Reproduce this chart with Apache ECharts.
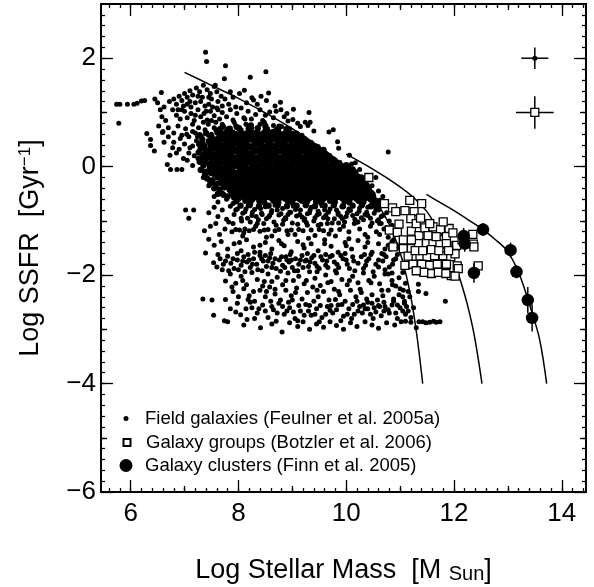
<!DOCTYPE html>
<html><head><meta charset="utf-8">
<script src="https://cdn.jsdelivr.net/npm/echarts@6/dist/echarts.min.js"></script>
<style>html,body{margin:0;padding:0;background:#fff}#c{width:594px;height:587px}</style>
</head><body><div id="c"></div><script>
// ---- data ----
const xTickLabels = [6, 8, 10, 12, 14];
const yTickLabels = [-6, -4, -2, 0, 2];
const fieldGalaxies = [
[5.74,1.15],[5.80,1.15],[5.94,1.15],[6.06,1.15],[6.12,1.17],[6.20,1.21],[6.26,1.22],[5.78,0.80],
[6.30,0.61],[6.37,0.39],[6.44,0.29],[6.68,0.04],[6.74,-0.05],[6.86,-0.05],[6.95,-0.05],[6.37,0.50],[6.59,0.63],[6.73,0.21],
[6.45,1.25],[6.50,1.18],[6.57,1.37],[6.62,1.10],[6.55,1.05],[6.58,0.92],[6.65,0.85],[6.52,0.75],[6.60,0.65],[6.70,0.72],[6.72,1.20],[6.80,1.25],[6.85,1.15],[6.78,1.05],[6.90,1.30],[6.95,1.22],[7.00,1.35],[7.05,1.28],[7.10,1.40],[7.15,1.32],[7.22,1.45],[7.28,1.38],[7.35,1.50],[7.42,1.42],[7.48,1.35],[7.55,1.48],[7.60,1.38],[7.68,1.30],[7.50,1.25],[7.20,1.18],[7.12,1.10],[7.30,1.20],[7.38,1.12],[7.62,1.20],[7.75,1.25],[7.82,1.15],[7.90,1.28],[7.95,1.10],[8.02,1.35],[8.11,1.41],[8.25,1.27],[8.28,1.23],[8.52,1.22],[8.56,1.36],[8.58,1.01],[8.78,1.19],[8.79,1.05],[9.02,1.06],[9.01,0.87],[9.31,1.00],[9.24,0.82],[9.33,0.82],[9.29,0.76],[9.40,0.66],[9.68,0.64],[9.76,0.68],[9.84,0.46],[9.86,0.34],[10.06,0.21],[10.17,0.07],[10.78,0.27],
[7.39,2.11],[7.41,1.94],[7.76,1.86],[7.74,1.62],[8.22,1.65],[8.51,1.75],[7.57,1.50],
[6.85,0.95],[6.92,0.88],[7.00,1.02],[7.05,0.90],[7.12,0.98],[7.18,0.85],[7.25,1.05],[7.30,0.92],[7.36,0.98],[7.42,0.86],[7.48,1.02],[7.55,0.94],[7.60,1.08],[7.65,0.88],[7.70,1.00],[7.78,0.92],[7.85,1.05],[7.90,0.86],[7.97,0.98],[8.05,1.08],[8.10,0.90],[8.18,1.02],[8.24,0.88],[8.32,0.96],[8.40,1.05],[8.45,0.85],[8.50,0.95],[8.65,0.90],[8.70,1.02],[8.85,0.92],[8.92,0.84],[9.10,0.80],[9.15,0.74],
[7.85,1.38],[8.15,1.18],[8.35,1.15],[8.42,1.30],[8.68,1.12],[8.90,0.98],[7.05,1.15],[6.95,1.05],[7.45,1.15],[7.70,1.12],
[6.80,0.62],[6.88,0.75],[6.95,0.58],[7.02,0.70],[7.08,0.55],[7.15,0.78],[7.20,0.62],[7.26,0.72],[7.32,0.55],[7.38,0.68],[7.44,0.78],[7.50,0.60],[7.55,0.72],[7.60,0.52],[7.64,0.66],[7.70,0.78],[7.74,0.58],[7.80,0.70],[7.84,0.55],[7.90,0.64],[7.95,0.76],[8.00,0.58],[8.05,0.68],[8.10,0.52],[8.14,0.78],[8.20,0.62],[8.25,0.72],[8.30,0.55],[8.35,0.66],[8.40,0.78],[8.45,0.58],[8.50,0.70],[8.55,0.52],[8.60,0.64],[8.65,0.76],[8.70,0.57],[8.75,0.68],[8.80,0.74],[8.85,0.55],[8.90,0.66],[8.95,0.70],[9.00,0.58],[9.08,0.62],[9.12,0.52],[9.18,0.58],[9.25,0.50],[9.35,0.44],[9.45,0.38],[7.92,0.82],[8.48,0.82],[8.12,0.88],[7.58,0.82],
[6.80,0.45],[6.90,0.32],[7.00,0.42],[7.08,0.25],[7.15,0.38],[7.22,0.48],[7.28,0.30],[7.35,0.42],[7.42,0.22],[7.48,0.36],[7.54,0.46],[7.60,0.28],[7.65,0.40],
[7.05,0.12],[7.15,0.02],[7.25,0.15],[7.32,-0.05],[7.40,0.08],[7.46,-0.02],[7.52,0.16],[7.58,0.04],
[7.35,-0.20],[7.45,-0.35],[7.55,-0.15],[7.62,-0.30],[7.68,-0.22],[7.72,-0.38],[7.55,-0.55],[7.62,-0.65],[7.70,-0.48],[7.78,-0.60],[7.85,-0.45],[7.90,-0.68],
[7.02,-0.80],[7.17,-0.80],[7.08,-0.95],
[6.62,0.45],[6.70,0.55],[6.78,0.35],[6.85,0.25],[6.92,0.52],[6.98,0.15],[7.04,0.60],[7.10,0.35],[7.18,0.20],[7.24,0.55],[7.30,0.08],[7.38,0.30],[7.44,0.58],[7.50,0.12],[7.56,0.40],[7.20,0.95],[7.33,1.28],[7.40,1.02],[7.52,1.10],[7.58,0.68],[6.98,1.12],[7.10,1.20],[7.25,1.30],[7.45,1.28],[7.62,1.05],[7.68,0.70],[7.50,0.85],[7.35,0.82],[7.15,0.65],[6.88,1.05]
];
const fieldGalaxiesCore = [
[7.71,.74],[7.97,.73],[8.23,.76],[8.50,.75],[8.76,.74],
[7.66,.69],[7.84,.70],[8.01,.71],[8.19,.70],[8.36,.71],[8.53,.69],[8.71,.68],[8.89,.69],
[7.61,.63],[7.69,.61],[7.78,.64],[7.87,.62],[7.95,.60],[8.04,.63],[8.13,.61],[8.22,.64],[8.30,.62],[8.39,.60],[8.48,.63],[8.56,.61],[8.65,.64],[8.74,.62],[8.83,.60],[8.91,.63],[9.00,.61],[9.09,.59],
[7.65,.55],[7.73,.57],[7.82,.54],[7.91,.56],[8.00,.53],[8.08,.56],[8.17,.54],[8.26,.57],[8.34,.55],[8.43,.53],[8.52,.56],[8.61,.54],[8.69,.57],[8.78,.55],[8.87,.53],[8.95,.56],[9.04,.54],[9.13,.52],[9.22,.51],
[7.60,.48],[7.68,.50],[7.77,.47],[7.86,.49],[7.94,.46],[8.03,.49],[8.12,.47],[8.21,.50],[8.29,.48],[8.38,.46],[8.47,.49],[8.55,.47],[8.64,.50],[8.73,.48],[8.82,.46],[8.90,.49],[8.99,.47],[9.08,.45],[9.17,.48],[9.26,.46],[9.34,.44],
[7.64,.41],[7.72,.39],[7.81,.42],[7.90,.40],[7.98,.43],[8.07,.39],[8.16,.41],[8.25,.38],[8.33,.42],[8.42,.40],[8.51,.38],[8.59,.41],[8.68,.39],[8.77,.42],[8.86,.40],[8.94,.38],[9.03,.41],[9.12,.39],[9.21,.42],[9.29,.40],[9.38,.38],[9.47,.36],
[7.58,.34],[7.66,.32],[7.75,.35],[7.84,.33],[7.92,.31],[8.01,.34],[8.10,.32],[8.19,.35],[8.27,.33],[8.36,.31],[8.45,.34],[8.53,.32],[8.62,.35],[8.71,.33],[8.80,.31],[8.88,.34],[8.97,.32],[9.06,.35],[9.15,.33],[9.23,.31],[9.32,.34],[9.41,.32],[9.50,.30],[9.58,.31],
[7.62,.27],[7.70,.25],[7.79,.28],[7.88,.26],[7.96,.29],[8.05,.25],[8.14,.27],[8.23,.24],[8.31,.28],[8.40,.26],[8.49,.24],[8.57,.27],[8.66,.25],[8.75,.28],[8.84,.26],[8.92,.24],[9.01,.27],[9.10,.25],[9.19,.28],[9.27,.26],[9.36,.24],[9.45,.27],[9.54,.25],[9.62,.23],[9.68,.20],
[7.57,.20],[7.65,.18],[7.74,.21],[7.83,.19],[7.91,.17],[8.00,.20],[8.09,.18],[8.18,.21],[8.26,.19],[8.35,.17],[8.44,.20],[8.52,.18],[8.61,.21],[8.70,.19],[8.79,.17],[8.87,.20],[8.96,.18],[9.05,.21],[9.14,.19],[9.22,.17],[9.31,.20],[9.40,.18],[9.49,.21],[9.57,.19],[9.66,.17],[9.75,.14],
[7.52,.13],[7.61,.11],[7.69,.14],[7.78,.12],[7.87,.10],[7.95,.13],[8.04,.11],[8.13,.14],[8.22,.12],[8.30,.10],[8.39,.13],[8.48,.11],[8.56,.14],[8.65,.12],[8.74,.10],[8.83,.13],[8.91,.11],[9.00,.14],[9.09,.12],[9.18,.10],[9.26,.13],[9.35,.11],[9.44,.14],[9.52,.12],[9.61,.10],[9.70,.13],[9.79,.11],[9.87,.07],
[7.56,.06],[7.64,.04],[7.73,.07],[7.82,.05],[7.90,.03],[7.99,.06],[8.08,.04],[8.17,.07],[8.25,.05],[8.34,.03],[8.43,.06],[8.51,.04],[8.60,.07],[8.69,.05],[8.78,.03],[8.86,.06],[8.95,.04],[9.04,.07],[9.13,.05],[9.21,.03],[9.30,.06],[9.39,.04],[9.48,.07],[9.56,.05],[9.65,.03],[9.74,.06],[9.83,.04],[9.91,.02],[10.00,.03],
[7.60,-.01],[7.68,-.03],[7.77,.00],[7.86,-.02],[7.94,.01],[8.03,-.03],[8.12,-.01],[8.21,-.04],[8.29,.00],[8.38,-.02],[8.47,-.04],[8.55,-.01],[8.64,-.03],[8.73,.00],[8.82,-.02],[8.90,-.04],[8.99,-.01],[9.08,-.03],[9.17,.00],[9.25,-.02],[9.34,-.04],[9.43,-.01],[9.52,-.03],[9.60,.00],[9.69,-.02],[9.78,-.04],[9.87,-.01],[9.95,-.03],[10.04,-.02],[10.12,-.05],
[7.64,-.08],[7.72,-.10],[7.81,-.07],[7.90,-.09],[7.98,-.11],[8.07,-.08],[8.16,-.10],[8.25,-.07],[8.33,-.09],[8.42,-.11],[8.51,-.08],[8.59,-.10],[8.68,-.07],[8.77,-.09],[8.86,-.11],[8.94,-.08],[9.03,-.10],[9.12,-.07],[9.21,-.09],[9.29,-.11],[9.38,-.08],[9.47,-.10],[9.56,-.07],[9.64,-.09],[9.73,-.11],[9.82,-.08],[9.91,-.10],[9.99,-.07],[10.08,-.09],[10.17,-.11],
[7.68,-.15],[7.76,-.17],[7.85,-.14],[7.94,-.16],[8.02,-.18],[8.11,-.15],[8.20,-.17],[8.29,-.14],[8.37,-.16],[8.46,-.18],[8.55,-.15],[8.63,-.17],[8.72,-.14],[8.81,-.16],[8.90,-.18],[8.98,-.15],[9.07,-.17],[9.16,-.14],[9.25,-.16],[9.33,-.18],[9.42,-.15],[9.51,-.17],[9.60,-.14],[9.68,-.16],[9.77,-.18],[9.86,-.15],[9.95,-.17],[10.03,-.14],[10.12,-.16],[10.21,-.18],[10.28,-.20],
[7.72,-.22],[7.80,-.24],[7.89,-.21],[7.98,-.23],[8.06,-.25],[8.15,-.22],[8.24,-.24],[8.33,-.21],[8.41,-.23],[8.50,-.25],[8.59,-.22],[8.67,-.24],[8.76,-.21],[8.85,-.23],[8.94,-.25],[9.02,-.22],[9.11,-.24],[9.20,-.21],[9.29,-.23],[9.37,-.25],[9.46,-.22],[9.55,-.24],[9.64,-.21],[9.72,-.23],[9.81,-.25],[9.90,-.22],[9.99,-.24],[10.07,-.21],[10.16,-.23],[10.25,-.25],[10.34,-.27],
[7.76,-.29],[7.84,-.31],[7.93,-.28],[8.02,-.30],[8.10,-.32],[8.19,-.29],[8.28,-.31],[8.37,-.28],[8.45,-.30],[8.54,-.32],[8.63,-.29],[8.71,-.31],[8.80,-.28],[8.89,-.30],[8.98,-.32],[9.06,-.29],[9.15,-.31],[9.24,-.28],[9.33,-.30],[9.41,-.32],[9.50,-.29],[9.59,-.31],[9.68,-.28],[9.76,-.30],[9.85,-.32],[9.94,-.29],[10.03,-.31],[10.11,-.28],[10.20,-.30],[10.29,-.32],[10.38,-.34],
[7.80,-.36],[7.88,-.38],[7.97,-.35],[8.06,-.37],[8.14,-.39],[8.23,-.36],[8.32,-.38],[8.41,-.35],[8.49,-.37],[8.58,-.39],[8.67,-.36],[8.75,-.38],[8.84,-.35],[8.93,-.37],[9.02,-.39],[9.10,-.36],[9.19,-.38],[9.28,-.35],[9.37,-.37],[9.45,-.39],[9.54,-.36],[9.63,-.38],[9.72,-.35],[9.80,-.37],[9.89,-.39],[9.98,-.36],[10.07,-.38],[10.15,-.35],[10.24,-.37],[10.33,-.39],[10.42,-.41],
[7.84,-.43],[7.92,-.45],[8.01,-.42],[8.10,-.44],[8.18,-.46],[8.27,-.43],[8.36,-.45],[8.45,-.42],[8.53,-.44],[8.62,-.46],[8.71,-.43],[8.79,-.45],[8.88,-.42],[8.97,-.44],[9.06,-.46],[9.14,-.43],[9.23,-.45],[9.32,-.42],[9.41,-.44],[9.49,-.46],[9.58,-.43],[9.67,-.45],[9.76,-.42],[9.84,-.44],[9.93,-.46],[10.02,-.43],[10.11,-.45],[10.19,-.42],[10.28,-.44],[10.37,-.46],[10.46,-.48],
[7.88,-.50],[7.96,-.52],[8.05,-.49],[8.14,-.51],[8.22,-.53],[8.31,-.50],[8.40,-.52],[8.49,-.49],[8.57,-.51],[8.66,-.53],[8.75,-.50],[8.83,-.52],[8.92,-.49],[9.01,-.51],[9.10,-.53],[9.18,-.50],[9.27,-.52],[9.36,-.49],[9.45,-.51],[9.53,-.53],[9.62,-.50],[9.71,-.52],[9.80,-.49],[9.88,-.51],[9.97,-.53],[10.06,-.50],[10.15,-.52],[10.23,-.49],[10.32,-.51],[10.41,-.53],[10.50,-.55],
[7.92,-.57],[8.00,-.59],[8.09,-.56],[8.18,-.58],[8.26,-.60],[8.35,-.57],[8.44,-.59],[8.53,-.56],[8.61,-.58],[8.70,-.60],[8.79,-.57],[8.87,-.59],[8.96,-.56],[9.05,-.58],[9.14,-.60],[9.22,-.57],[9.31,-.59],[9.40,-.56],[9.49,-.58],[9.57,-.60],[9.66,-.57],[9.75,-.59],[9.84,-.56],[9.92,-.58],[10.01,-.60],[10.10,-.57],[10.19,-.59],[10.27,-.56],[10.36,-.58],[10.45,-.60],[10.54,-.62],
[7.96,-.64],[8.13,-.63],[8.22,-.66],[8.39,-.64],[8.48,-.66],[8.65,-.63],[8.74,-.66],[8.92,-.64],[9.00,-.66],[9.18,-.63],[9.27,-.65],[9.44,-.64],[9.53,-.66],[9.70,-.63],[9.79,-.65],[9.97,-.64],[10.06,-.66],[10.23,-.63],[10.32,-.65],[10.49,-.64],[10.58,-.66],
[8.04,-.72],[8.21,-.71],[8.38,-.73],[8.56,-.72],[8.73,-.71],[8.90,-.73],[9.08,-.72],[9.25,-.71],[9.42,-.73],[9.60,-.72],[9.77,-.71],[9.94,-.73],[10.12,-.72],[10.29,-.71],[10.46,-.73],[10.63,-.72],
[7.28,.58],[7.40,.62],[7.50,.55],[7.33,.50],[7.45,.47],[7.55,.50],[7.27,.42],[7.37,.38],[7.48,.41],[7.30,.33],[7.42,.30],[7.52,.33],[7.26,.26],[7.36,.22],[7.47,.25],[7.32,.16],[7.44,.18],[7.55,.22],[7.28,.09],[7.39,.12],[7.50,.08],[7.35,.02],[7.46,.04],[7.55,-.02],[7.30,-.06],[7.41,-.09],[7.52,-.07],[7.38,-.14],[7.49,-.12],[7.58,-.10],[7.42,-.22],[7.52,-.25],[7.62,-.20],[7.48,-.30],[7.58,-.33],[7.68,-.30],[7.55,-.40],[7.65,-.42],[7.75,-.38],[7.62,-.50],[7.72,-.52],[7.80,-.55]
];
const fieldGalaxiesMid = [
[8.08,-.86],[8.26,-.84],[8.44,-.88],[8.61,-.85],[8.79,-.87],[8.97,-.84],[9.14,-.88],[9.32,-.85],[9.50,-.87],[9.67,-.84],[9.85,-.88],[10.02,-.85],[10.20,-.87],[10.38,-.84],[8.17,-.95],[8.52,-.96],[8.87,-.94],[9.23,-.96],[9.58,-.94],[9.93,-.96],[10.28,-.94],[10.60,-.98],
[7.45,-0.85],[7.55,-0.75],[7.62,-0.92],[7.70,-0.80],[7.78,-0.97],[7.85,-0.73],[7.92,-0.88],[7.98,-0.78],[8.05,-0.95],[8.12,-0.83],[8.18,-0.72],[8.25,-0.90],[8.30,-0.79],[8.37,-0.98],[8.43,-0.86],[8.50,-0.74],[8.56,-0.93],[8.62,-0.81],[8.68,-0.71],[8.75,-0.89],[8.82,-0.77],[8.88,-0.96],[8.95,-0.84],[9.02,-0.73],[9.08,-0.91],[9.15,-0.80],[9.22,-0.99],[9.28,-0.87],[9.35,-0.75],[9.42,-0.94],[9.48,-0.82],[9.55,-0.72],[9.62,-0.90],[9.70,-0.78],[9.78,-0.96],[9.85,-0.85],[9.92,-0.74],[10.00,-0.92],[10.08,-0.81],[10.16,-0.97],[10.25,-0.76],[10.35,-0.88],[10.45,-0.95],[10.55,-0.80],[10.65,-0.92],[10.75,-0.85],
[7.95,-.80],[8.06,-1.00],[8.14,-.78],[8.22,-1.02],[8.33,-.92],[8.41,-.77],[8.47,-1.05],[8.58,-.90],[8.66,-1.02],[8.72,-.80],[8.84,-.99],[8.92,-.88],[9.00,-1.04],[9.06,-.79],[9.18,-.93],[9.26,-1.03],[9.33,-.80],[9.40,-1.00],[9.46,-.89],[9.53,-1.06],[9.60,-.80],[9.66,-.96],[9.74,-1.04],[9.82,-.80],[9.90,-.92],[9.97,-1.02],[10.05,-.78],[10.12,-.90],[10.18,-1.03],[10.24,-.82],[10.32,-.98],[10.40,-.90],[10.48,-1.04],[10.52,-.86],[10.60,-.80],
[10.10,0.05],[10.15,-0.08],[10.25,-0.05],[10.28,-0.35],[10.35,-0.28],[10.40,-0.42],[10.48,-0.35],[10.50,-0.50],[10.60,-0.45],[10.62,-0.62],[10.70,-0.70],[10.68,-0.55],[10.40,-0.75],[10.50,-0.68],[10.55,-0.20]
];
const fieldGalaxiesLow = [
[7.37,-1.18],[7.45,-1.34],[7.48,-1.10],[7.58,-1.05],[7.65,-1.25],[7.75,-1.15],[7.82,-1.02],[7.88,-1.20],[7.95,-1.16],[8.02,-1.17],[8.08,-1.28],[8.12,-1.15],[8.20,-1.18],[8.28,-1.16],[8.35,-1.05],[8.40,-1.19],[8.48,-1.17],[8.55,-1.16],[8.62,-1.28],[8.68,-1.18],[8.75,-1.16],[8.82,-1.06],[8.90,-1.18],[8.98,-1.17],[9.05,-1.25],[9.12,-1.16],[9.20,-1.18],[9.28,-1.08],[9.35,-1.17],[9.42,-1.27],[9.50,-1.16],[9.58,-1.18],[9.65,-1.05],[9.72,-1.17],[9.80,-1.28],[9.88,-1.16],[9.95,-1.10],[10.05,-1.20],[10.15,-1.05],[10.25,-1.15],[10.35,-1.25],[10.45,-1.10],[10.56,-1.20],[10.70,-1.15],[10.85,-1.08],
[7.90,-1.05],[8.10,-1.22],[8.32,-1.10],[8.52,-1.30],[8.70,-1.08],[8.92,-1.25],[9.10,-1.06],[9.30,-1.32],[9.48,-1.08],[9.68,-1.24],[9.86,-1.04],[10.05,-1.33],[10.22,-1.02],[10.40,-1.30],[10.62,-1.05],[10.78,-1.30],[8.02,-1.40],[8.40,-1.45],[8.80,-1.42],[9.20,-1.44],[9.60,-1.42],[10.00,-1.46],[10.40,-1.40],[10.78,-1.45],
[7.39,-1.59],[7.55,-1.45],[7.68,-1.38],[7.80,-1.52],[7.92,-1.42],[8.05,-1.55],[8.15,-1.35],[8.28,-1.48],[8.40,-1.58],[8.50,-1.40],[8.62,-1.52],[8.75,-1.36],[8.85,-1.46],[8.98,-1.57],[9.10,-1.38],[9.22,-1.50],[9.35,-1.42],[9.48,-1.55],[9.60,-1.35],[9.72,-1.47],[9.85,-1.58],[9.98,-1.40],[10.10,-1.52],[10.22,-1.36],[10.35,-1.48],[10.48,-1.58],[10.60,-1.42],[10.72,-1.52],[10.85,-1.38],[10.95,-1.50],
[7.54,-1.77],[7.60,-1.85],[7.66,-1.70],[7.72,-1.80],[7.80,-1.65],[7.86,-1.78],[7.92,-1.88],[7.98,-1.72],[8.05,-1.82],[8.10,-1.66],[8.16,-1.76],[8.22,-1.86],[8.28,-1.70],[8.34,-1.80],[8.40,-1.64],[8.46,-1.74],[8.52,-1.84],[8.58,-1.68],[8.64,-1.78],[8.70,-1.88],[8.76,-1.72],[8.82,-1.82],[8.88,-1.66],[8.94,-1.76],[9.00,-1.86],[9.06,-1.70],[9.12,-1.80],[9.18,-1.64],[9.24,-1.74],[9.30,-1.84],[9.36,-1.68],[9.42,-1.78],[9.50,-1.88],[9.56,-1.72],[9.62,-1.82],[9.70,-1.66],[9.78,-1.76],[9.86,-1.86],[9.94,-1.70],[10.02,-1.80],[10.12,-1.66],[10.22,-1.78],[10.32,-1.88],[10.42,-1.70],[10.55,-1.80],[10.68,-1.74],[10.80,-1.85],[10.92,-1.70],
[7.62,-1.62],[7.82,-1.92],[7.98,-1.60],[8.12,-1.94],[8.30,-1.58],[8.44,-1.92],[8.60,-1.60],[8.78,-1.93],[8.96,-1.62],[9.10,-1.92],[9.28,-1.60],[9.46,-1.94],[9.62,-1.62],[9.80,-1.92],[9.98,-1.60],[10.16,-1.92],[10.34,-1.62],[10.50,-1.94],[10.66,-1.60],[10.85,-1.96],[8.20,-1.72],[8.55,-1.74],[8.90,-1.72],[9.26,-1.72],[9.64,-1.74],[10.00,-1.72],[10.38,-1.74],[10.74,-1.66],
[7.70,-1.90],[7.76,-1.74],[7.90,-1.70],[8.00,-1.90],[8.08,-1.74],[8.18,-1.62],[8.26,-1.80],[8.36,-1.90],[8.43,-1.70],[8.50,-1.64],[8.62,-1.86],[8.68,-1.70],[8.80,-1.66],[8.86,-1.86],[8.98,-1.72],[9.04,-1.92],[9.15,-1.72],[9.20,-1.86],[9.33,-1.76],[9.40,-1.64],[9.46,-1.84],[9.53,-1.66],[9.66,-1.86],[9.74,-1.64],[9.83,-1.80],[9.90,-1.64],[10.06,-1.88],[10.14,-1.74],[10.28,-1.66],[10.36,-1.82],[10.46,-1.62],[10.60,-1.72],[10.72,-1.90],[10.86,-1.80],
[7.76,-2.11],[7.85,-1.98],[7.95,-2.15],[8.05,-2.02],[8.15,-2.18],[8.25,-1.95],[8.35,-2.08],[8.45,-2.20],[8.55,-1.98],[8.62,-2.12],[8.72,-2.04],[8.82,-2.18],[8.92,-1.96],[9.02,-2.10],[9.12,-2.02],[9.22,-2.16],[9.32,-1.94],[9.42,-2.06],[9.52,-2.19],[9.62,-2.00],[9.72,-2.12],[9.82,-1.96],[9.92,-2.08],[10.02,-2.18],[10.12,-2.02],[10.22,-2.14],[10.32,-1.96],[10.42,-2.10],[10.52,-2.02],[10.62,-2.16],[10.72,-1.98],[10.85,-2.10],[10.98,-2.05],[11.10,-2.15],[11.34,-2.17],
[7.88,-2.22],[8.08,-2.10],[8.28,-2.30],[8.48,-2.12],[8.68,-2.26],[8.88,-2.10],[9.06,-2.32],[9.26,-2.10],[9.46,-2.28],[9.66,-2.14],[9.86,-2.30],[10.06,-2.10],[10.26,-2.26],[10.46,-2.14],[10.66,-2.28],[10.86,-2.18],[11.06,-2.28],[8.18,-2.45],[8.60,-2.48],[9.00,-2.46],[9.40,-2.48],[9.80,-2.45],[10.20,-2.48],
[7.34,-2.44],[7.51,-2.46],[7.76,-2.45],[7.90,-2.30],[8.00,-2.40],[8.10,-2.25],[8.20,-2.38],[8.30,-2.48],[8.40,-2.28],[8.50,-2.40],[8.58,-2.22],[8.68,-2.35],[8.78,-2.46],[8.88,-2.28],[8.98,-2.38],[9.08,-2.24],[9.18,-2.44],[9.28,-2.32],[9.38,-2.22],[9.48,-2.40],[9.58,-2.30],[9.68,-2.46],[9.78,-2.26],[9.88,-2.36],[9.98,-2.48],[10.08,-2.28],[10.18,-2.40],[10.28,-2.32],[10.38,-2.44],[10.48,-2.36],[10.58,-2.46],[10.68,-2.38],[10.78,-2.28],[10.88,-2.44],[10.98,-2.36],[11.08,-2.48],[11.18,-2.40],[11.34,-2.30],[11.48,-2.34],[11.84,-2.48],
[10.32,-2.55],[10.40,-2.62],[10.48,-2.52],[10.55,-2.68],[10.62,-2.58],[10.70,-2.50],[10.78,-2.64],[10.85,-2.55],[10.92,-2.70],[11.00,-2.60],[11.08,-2.52],[11.15,-2.66],[10.45,-2.72],[10.65,-2.75],[10.88,-2.48],
[7.54,-2.74],[7.74,-2.84],[7.85,-2.62],[8.04,-2.73],[8.16,-2.82],[8.25,-2.60],[8.35,-2.70],[8.45,-2.55],[8.55,-2.78],[8.65,-2.64],[8.75,-2.52],[8.85,-2.72],[8.95,-2.60],[9.05,-2.80],[9.15,-2.66],[9.25,-2.54],[9.35,-2.74],[9.45,-2.62],[9.55,-2.78],[9.65,-2.58],[9.75,-2.70],[9.85,-2.55],[9.95,-2.76],[10.05,-2.62],[10.15,-2.72],[10.25,-2.58],[11.25,-2.60],
[7.98,-2.52],[8.14,-2.62],[8.22,-2.50],[8.38,-2.62],[8.52,-2.30],[8.62,-2.58],[8.72,-2.70],[8.82,-2.58],[8.93,-2.50],[9.02,-2.68],[9.12,-2.56],[9.22,-2.74],[9.32,-2.56],[9.42,-2.72],[9.52,-2.56],[9.62,-2.72],[9.72,-2.56],[9.82,-2.64],[9.92,-2.54],[10.02,-2.72],[10.12,-2.54],[10.22,-2.66],[10.35,-2.62],[10.52,-2.60],[10.72,-2.58],[10.95,-2.55],[11.12,-2.58],
[7.95,-2.68],[8.10,-2.92],[8.30,-2.80],[8.50,-2.66],[8.70,-2.85],[8.90,-2.66],[9.10,-2.84],[9.30,-2.66],[9.50,-2.86],[9.70,-2.65],[9.90,-2.84],[10.10,-2.80],[10.30,-2.70],[10.50,-2.80],[10.70,-2.66],[10.95,-2.80],[11.10,-2.72],[10.40,-2.50],[10.60,-2.56],[10.80,-2.70],[11.05,-2.66],[11.35,-2.86],[11.48,-2.88],[11.62,-2.85],
[7.80,-2.86],[8.41,-2.97],[8.62,-2.90],[8.81,-3.05],[8.95,-2.88],[9.10,-2.95],[9.20,-2.86],[9.32,-3.00],[9.45,-2.90],[9.58,-2.96],[9.70,-2.86],[9.82,-2.93],[9.95,-3.00],[10.08,-2.88],[10.20,-2.95],[10.35,-2.86],[10.48,-2.92],[10.60,-2.98],[10.75,-2.88],[10.90,-2.92],[11.02,-2.86],[11.10,-2.85],[11.20,-2.87],[11.30,-2.97],[11.42,-2.86],[11.55,-2.87],[11.67,-2.87],[11.74,-2.86],[11.20,-2.78],
[10.58,-1.00],[10.65,-1.05],[10.80,-1.00],[10.90,-1.20],[10.88,-1.35],[11.00,-1.45],[10.95,-1.62],[11.05,-1.95],[11.00,-2.25],[11.15,-2.30],
[10.55,-0.75],[10.68,-0.90],[10.75,-1.12],[10.62,-1.25],[10.82,-1.52],[10.70,-1.62],[10.88,-1.72],[10.60,-1.85],[10.78,-1.98],[10.92,-2.20],[11.05,-2.40]
];
const galaxyGroups = [
[10.42,-0.20],[10.71,-0.68],[10.86,-0.76],[10.92,-0.83],[11.09,-0.81],[11.18,-0.62],[11.26,-0.83],[11.40,-0.68],[11.20,-0.96],[10.98,-1.06],[10.80,-1.17],[10.95,-1.21],[11.06,-1.35],[11.21,-1.19],[11.35,-1.27],[11.46,-1.13],[11.61,-1.11],[11.75,-1.16],[11.91,-1.14],[10.87,-1.48],[11.06,-1.51],[11.21,-1.51],[11.34,-1.42],[11.49,-1.40],[11.61,-1.42],[11.74,-1.43],[11.86,-1.29],[12.02,-1.46],[11.21,-1.35],[11.52,-1.27],[11.67,-1.29],[11.09,-1.82],[11.24,-1.80],[11.37,-1.65],[11.50,-1.66],[11.64,-1.64],[11.80,-1.64],[11.94,-1.66],[12.06,-1.83],[11.40,-1.80],[11.55,-1.82],[11.69,-1.80],[11.86,-1.80],[11.58,-1.97],[11.44,-1.95],[11.71,-1.95],[11.95,-2.01],[12.36,-1.43],[12.35,-1.25],[12.37,-1.48],[12.05,-1.45],[12.02,-1.61],[12.08,-1.88],[12.02,-2.02],[12.45,-1.83],[11.86,-1.42],[11.30,-1.05],[11.38,-0.95],[11.55,-1.05],[11.80,-1.02],[11.98,-1.22],[11.15,-1.65],[11.28,-1.55],[11.42,-1.55],[11.58,-1.53],[11.72,-1.55],[11.90,-1.55],[12.15,-1.35],[11.30,-1.92],[11.85,-1.97]
];
const clusterX = [12.54, 12.18, 12.20, 13.05, 13.16, 12.37, 13.37, 13.45];
const clusterY = [-1.16, -1.28, -1.42, -1.54, -1.94, -1.96, -2.46, -2.79];
const clusterErr = [0.12, 0.15, 0.15, 0.14, 0.12, 0.18, 0.24, 0.25];
const curveA = [[7.0,1.74],[7.5,1.50],[8.0,1.26],[8.5,0.99],[9.0,0.70],[9.5,0.37],[9.8,0.15],[10.1,-0.12],[10.4,-0.45],[10.7,-0.88],[10.9,-1.30],[11.05,-1.75],[11.2,-2.40],[11.31,-3.10],[11.42,-4.0]];
const curveB = [[10.0,0.23],[10.5,-0.05],[10.94,-0.33],[11.24,-0.56],[11.49,-0.82],[11.67,-1.1],[11.86,-1.42],[12.0,-1.75],[12.12,-2.10],[12.25,-2.55],[12.38,-3.13],[12.52,-4.0]];
const curveC = [[11.49,-0.51],[11.74,-0.66],[12.0,-0.81],[12.25,-0.97],[12.54,-1.16],[12.75,-1.33],[12.97,-1.53],[13.12,-1.78],[13.25,-2.08],[13.43,-2.63],[13.59,-3.19],[13.72,-4.0]];
const errX = [13.5, 13.5], errY = [2.0, 1.0], errDx = [0.25, 0.35], errDy = [0.2, 0.3];
const legendNames = ['Field galaxies (Feulner et al. 2005a)', 'Galaxy groups (Botzler et al. 2006)', 'Galaxy clusters (Finn et al. 2005)'];

// ---- chart ----
const FONT = '"Liberation Sans", Arial, Helvetica, sans-serif';
const XMIN = 5.45, XMAX = 14.45, YMIN = -6, YMAX = 3;
function steps(a, b, s) { const r = []; for (let i = 0; a + i * s <= b + 1e-9; i++) r.push(Math.round((a + i * s) * 100) / 100); return r; }
const xMinor = steps(5.6, 14.4, 0.2), yMinor = steps(-5.8, 2.8, 0.2);
const xMid = [7, 9, 11, 13], yMid = [-5, -3, -1, 1];
const fmt = v => String(v).replace('-', '\u2212');
function ax(kind, pos, vals, len, withLabel, withLine, extra) {
  const o = {
    type: 'value', position: pos,
    min: kind === 'x' ? XMIN : YMIN, max: kind === 'x' ? XMAX : YMAX,
    axisLine: { show: withLine, onZero: false, lineStyle: { color: '#000', width: 2 } },
    axisTick: { show: true, inside: true, length: len, customValues: vals, lineStyle: { color: '#000', width: 1.3 } },
    axisLabel: { show: withLabel, customValues: vals, formatter: fmt, color: '#000', fontSize: 26, fontFamily: FONT, margin: kind === 'x' ? 9 : 5 },
    splitLine: { show: false }, minorTick: { show: false }, minorSplitLine: { show: false }
  };
  return Object.assign(o, extra || {});
}
const xAxes = [
  ax('x', 'bottom', xTickLabels, 12, true, true, {
    name: 'Log Stellar Mass  [M {sub|Sun}]', nameLocation: 'middle', nameGap: 65,
    nameTextStyle: { color: '#000', fontSize: 27, fontFamily: FONT, lineHeight: 27,
      rich: { sub: { fontSize: 20, fontFamily: FONT, color: '#000', verticalAlign: 'bottom', lineHeight: 13 } } }
  }),
  ax('x', 'bottom', xMid, 6, false, false),
  ax('x', 'bottom', xMinor, 4, false, false),
  ax('x', 'top', xTickLabels, 12, false, true),
  ax('x', 'top', xMid, 6, false, false),
  ax('x', 'top', xMinor, 4, false, false)
];
const yAxes = [
  ax('y', 'left', yTickLabels, 12, true, true, {
    name: 'Log SSFR  [Gyr{sup|\u22121}]', nameLocation: 'middle', nameGap: 57, nameRotate: 90,
    nameTextStyle: { color: '#000', fontSize: 27, fontFamily: FONT, lineHeight: 27,
      rich: { sup: { fontSize: 17, fontFamily: FONT, color: '#000', verticalAlign: 'top', lineHeight: 10 } } }
  }),
  ax('y', 'left', yMid, 6, false, false),
  ax('y', 'left', yMinor, 4, false, false),
  ax('y', 'right', yTickLabels, 12, false, true),
  ax('y', 'right', yMid, 6, false, false),
  ax('y', 'right', yMinor, 4, false, false)
];
const clusters = clusterX.map((x, i) => [x, clusterY[i], clusterErr[i]]);
const crosses = errX.map((x, i) => [x, errY[i], errDx[i], errDy[i], i]);
const curveStyle = { color: '#000', width: 1.5 };
function curve(data) {
  return { type: 'line', data, smooth: 0.35, showSymbol: false, symbol: 'none', lineStyle: curveStyle, z: 3, silent: true };
}
const legText = { color: '#000', fontSize: 18.5, fontFamily: FONT };
const SQUARE = 'path://M0,0L10,0L10,10L0,10Z';
const dotStyle = { color: '#000', opacity: 1 };
const chart = echarts.init(document.getElementById('c'), null, { renderer: 'canvas' });
chart.setOption({
  animation: false,
  backgroundColor: '#fff',
  grid: { left: 101, right: 8, top: 4, bottom: 95, containLabel: false, outerBoundsMode: 'none' },
  xAxis: xAxes,
  yAxis: yAxes,
  legend: [
    { data: [legendNames[0]], left: 123.5, top: 409, padding: 0, itemWidth: 28, itemHeight: 5, selectedMode: false, textStyle: legText },
    { data: [{ name: legendNames[1], icon: SQUARE }], left: 122.5, top: 433, padding: 0, itemWidth: 28, itemHeight: 7, selectedMode: false, textStyle: legText },
    { data: [legendNames[2]], left: 119.5, top: 456, padding: 0, itemWidth: 28, itemHeight: 13, selectedMode: false, textStyle: legText }
  ],
  series: [
    { name: legendNames[0], type: 'scatter', data: fieldGalaxies.concat(fieldGalaxiesMid, fieldGalaxiesLow), symbol: 'circle', symbolSize: 5, itemStyle: dotStyle, z: 2, silent: true },
    { name: legendNames[0], type: 'scatter', data: fieldGalaxiesCore, symbol: 'circle', symbolSize: 6.3, itemStyle: dotStyle, z: 2, silent: true },
    curve(curveA), curve(curveB), curve(curveC),
    { name: legendNames[1], type: 'scatter', data: galaxyGroups, symbol: 'rect', symbolSize: 8, itemStyle: { color: '#fff', borderColor: '#000', borderWidth: 1.3, opacity: 1 }, z: 4, silent: true },
    { type: 'custom', data: clusters, z: 5, silent: true,
      renderItem: (params, api) => {
        const x = api.value(0), y = api.value(1), e = api.value(2);
        const p1 = api.coord([x, y - e]), p2 = api.coord([x, y + e]);
        return { type: 'line', shape: { x1: p1[0], y1: p1[1], x2: p2[0], y2: p2[1] }, style: { stroke: '#000', lineWidth: 1.5 } };
      } },
    { name: legendNames[2], type: 'scatter', data: clusters.map(c => [c[0], c[1]]), symbol: 'circle', symbolSize: 12.5, itemStyle: { color: '#000', opacity: 1 }, z: 6, silent: true },
    { type: 'custom', data: crosses, z: 6, silent: true,
      renderItem: (params, api) => {
        const x = api.value(0), y = api.value(1), dx = api.value(2), dy = api.value(3), k = api.value(4);
        const c = api.coord([x, y]), l = api.coord([x - dx, y]), r = api.coord([x + dx, y]), t = api.coord([x, y + dy]), b = api.coord([x, y - dy]);
        const st = { stroke: '#000', lineWidth: 1.5 };
        const kids = [
          { type: 'line', shape: { x1: l[0], y1: l[1], x2: r[0], y2: r[1] }, style: st },
          { type: 'line', shape: { x1: t[0], y1: t[1], x2: b[0], y2: b[1] }, style: st }
        ];
        if (k === 0) kids.push({ type: 'circle', shape: { cx: c[0], cy: c[1], r: 2.5 }, style: { fill: '#000' } });
        else kids.push({ type: 'rect', shape: { x: c[0] - 4, y: c[1] - 4, width: 8, height: 8 }, style: { fill: '#fff', stroke: '#000', lineWidth: 1.3 } });
        return { type: 'group', children: kids };
      } }
  ]
});
</script></body></html>
